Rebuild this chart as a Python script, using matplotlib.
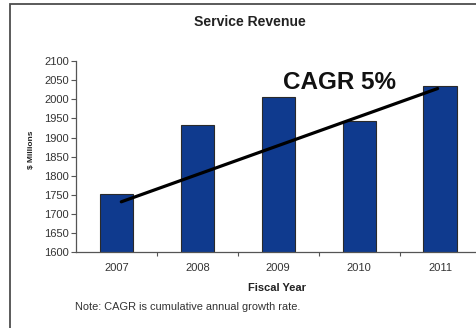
import matplotlib
matplotlib.use("Agg")
import matplotlib.pyplot as plt
from matplotlib.patches import Rectangle

plt.rcParams['font.family'] = ['Liberation Sans', 'DejaVu Sans']

years = ["2007", "2008", "2009", "2010", "2011"]
revenue = [1752, 1934, 2005, 1944, 2035]
trend_x = [0.06, 3.97]
trend_y = [1732, 2028]
y_ticks = [1600, 1650, 1700, 1750, 1800, 1850, 1900, 1950, 2000, 2050, 2100]

W, H = 476, 328
fig = plt.figure(figsize=(W / 100, H / 100), dpi=100)
fig.patch.set_facecolor("white")

# outer frame
fig.patches.append(Rectangle((10 / W, -0.05), 1.2, (328 - 4) / H + 0.05,
                             transform=fig.transFigure, fill=False,
                             edgecolor="#4d4d4d", linewidth=1.3, zorder=0))

ax = fig.add_axes([76 / W, 75.7 / H, 404.5 / W, 191.3 / H])
x = list(range(len(years)))
ax.bar(x, revenue, width=0.41, color="#0f3a8e", edgecolor="#2a2a2a",
       linewidth=0.8, zorder=2)
ax.plot(trend_x, trend_y, color="black", linewidth=2.3,
        solid_capstyle="round", zorder=3)

ax.set_xlim(-0.5, 4.5)
ax.set_ylim(1600, 2100)
ax.set_yticks(y_ticks)
ax.set_yticklabels([str(v) for v in y_ticks], fontsize=8, color="#333333")
ax.set_xticks(x)
ax.set_xticklabels(years, fontsize=8, color="#333333")
ax.set_xticks([i + 0.5 for i in x], minor=True)
ax.tick_params(axis="x", which="major", length=0, pad=8)
ax.tick_params(axis="x", which="minor", length=3, width=0.8, color="#555555", direction="out")
ax.tick_params(axis="y", length=3.5, width=0.8, color="#555555", pad=1.5)

for s in ["top", "right"]:
    ax.spines[s].set_visible(False)
for s in ["left", "bottom"]:
    ax.spines[s].set_color("#555555")
    ax.spines[s].set_linewidth(0.9)

ax.text(2.06, 2027, "CAGR 5%", fontsize=17.5, fontweight="bold",
        ha="left", va="baseline", color="#111111", zorder=4)

fig.text(250 / W, (H - 21.7) / H, "Service Revenue", fontsize=10.1,
         fontweight="bold", ha="center", va="center", color="#222222")
fig.text(31 / W, (H - 150) / H, "$ Millions", fontsize=6, fontweight="bold",
         rotation=90, ha="center", va="center", color="#222222")
fig.text(277.5 / W, (H - 288) / H, "Fiscal Year", fontsize=8,
         fontweight="bold", ha="center", va="center", color="#222222")
fig.text(75 / W, (H - 307) / H, "Note: CAGR is cumulative annual growth rate.",
         fontsize=7.9, ha="left", va="center", color="#333333")

fig.savefig("out.png", dpi=100)
